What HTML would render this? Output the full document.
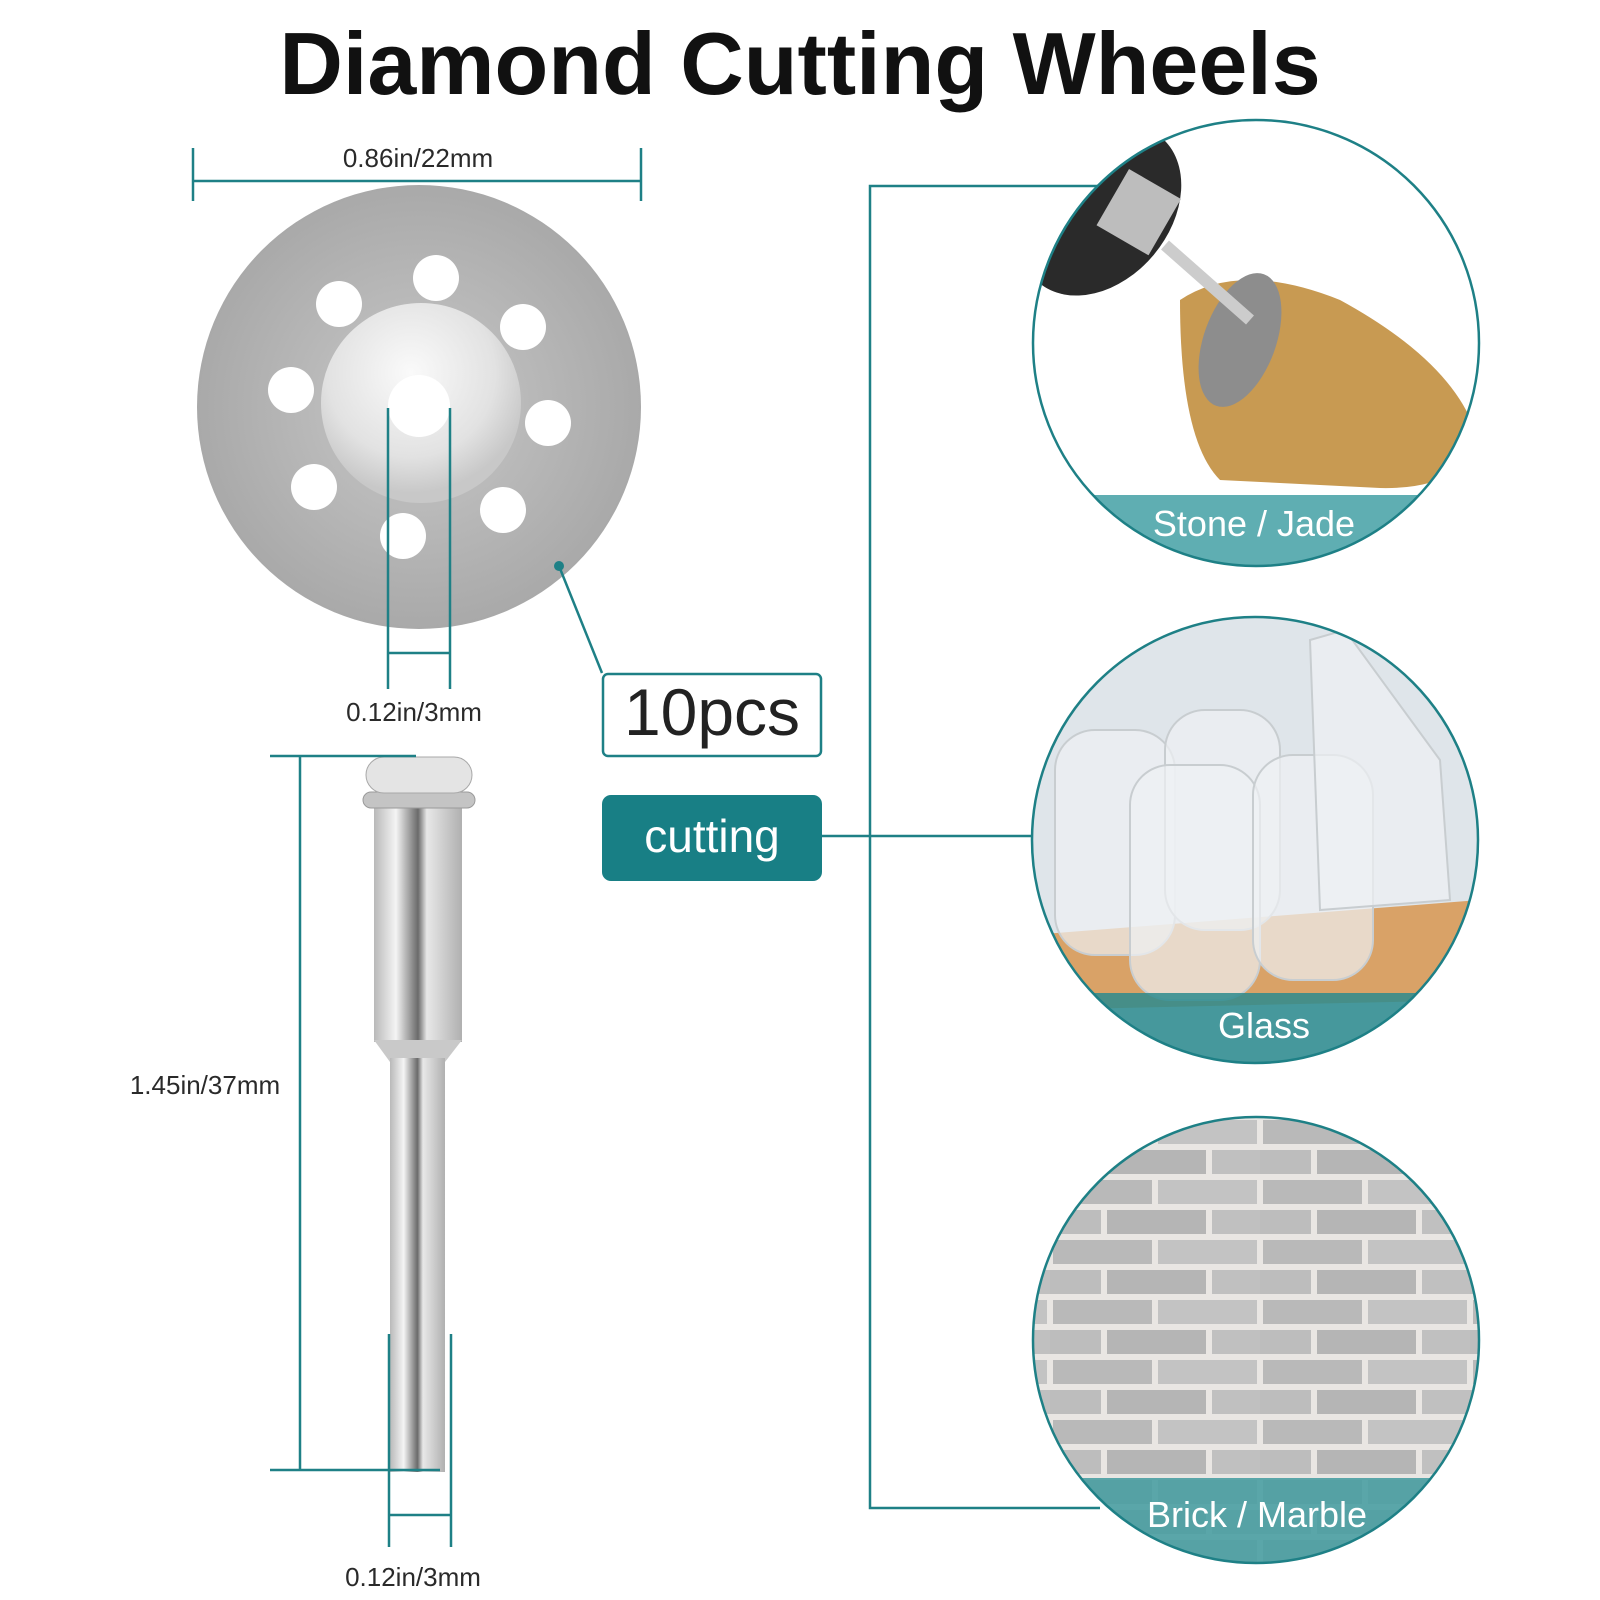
<!DOCTYPE html>
<html><head><meta charset="utf-8"><style>
html,body{margin:0;padding:0;background:#fff;}
svg{display:block;}
text{font-family:"Liberation Sans",sans-serif;}
</style></head><body>
<svg width="1600" height="1600" viewBox="0 0 1600 1600" xmlns="http://www.w3.org/2000/svg">
<defs>
<radialGradient id="disc" cx="50%" cy="50%" r="50%">
<stop offset="0" stop-color="#c8c8c8"/><stop offset="1" stop-color="#a9a9a9"/></radialGradient>
<radialGradient id="hub" cx="45%" cy="35%" r="60%">
<stop offset="0" stop-color="#fafafa"/><stop offset="0.7" stop-color="#e2e2e2"/><stop offset="1" stop-color="#c8c8c8"/></radialGradient>
<linearGradient id="shank" x1="0" x2="1">
<stop offset="0" stop-color="#b9b9b9"/><stop offset="0.25" stop-color="#f4f4f4"/><stop offset="0.5" stop-color="#6a6a6a"/><stop offset="0.6" stop-color="#e8e8e8"/><stop offset="1" stop-color="#b0b0b0"/></linearGradient>
<pattern id="brick" width="210" height="60" patternUnits="userSpaceOnUse" x="0" y="1117">
<rect width="210" height="60" fill="#e9e6e3"/>
<rect x="3" y="3" width="99" height="24" fill="#b9b9b9"/><rect x="108" y="3" width="99" height="24" fill="#c3c3c3"/>
<rect x="-48" y="33" width="99" height="24" fill="#bdbdbd"/><rect x="57" y="33" width="99" height="24" fill="#b5b5b5"/><rect x="162" y="33" width="99" height="24" fill="#c0c0c0"/>
</pattern>
<clipPath id="c1"><circle cx="1256" cy="343" r="223"/></clipPath>
<clipPath id="c2"><circle cx="1255" cy="840" r="223"/></clipPath>
<clipPath id="c3"><circle cx="1256" cy="1340" r="223"/></clipPath>
</defs>

<text x="800" y="94" text-anchor="middle" font-size="88" font-weight="bold" fill="#111">Diamond Cutting Wheels</text>

<g stroke="#1e8086" stroke-width="2.5" fill="none">
<line x1="193" y1="148" x2="193" y2="201"/><line x1="641" y1="148" x2="641" y2="201"/>
<line x1="193" y1="181" x2="641" y2="181"/>
</g>
<text x="418" y="167" text-anchor="middle" font-size="26" fill="#2a2a2a">0.86in/22mm</text>

<circle cx="419" cy="407" r="222" fill="url(#disc)"/>
<circle cx="421" cy="403" r="100" fill="url(#hub)"/>
<g fill="#fff">
<circle cx="436" cy="278" r="23"/><circle cx="523" cy="327" r="23"/><circle cx="548" cy="423" r="23"/><circle cx="503" cy="510" r="23"/>
<circle cx="403" cy="536" r="23"/><circle cx="314" cy="487" r="23"/><circle cx="291" cy="390" r="23"/><circle cx="339" cy="304" r="23"/>
<circle cx="419" cy="406" r="31"/>
</g>
<g stroke="#1e8086" stroke-width="2.5" fill="none">
<line x1="388" y1="408" x2="388" y2="689"/><line x1="450" y1="408" x2="450" y2="689"/>
<line x1="388" y1="653" x2="450" y2="653"/>
<polyline points="559,566 602,673"/>
</g>
<circle cx="559" cy="566" r="5" fill="#1e8086"/>
<text x="414" y="721" text-anchor="middle" font-size="26" fill="#2a2a2a">0.12in/3mm</text>

<rect x="603" y="674" width="218" height="82" rx="5" fill="#fff" stroke="#1e8086" stroke-width="2.5"/>
<text x="712" y="735" text-anchor="middle" font-size="66" fill="#222">10pcs</text>
<rect x="602" y="795" width="220" height="86" rx="9" fill="#187f85"/>
<text x="712" y="852" text-anchor="middle" font-size="46" fill="#fff">cutting</text>

<g stroke="#1e8086" stroke-width="2.5" fill="none">
<polyline points="1100,186 870,186 870,1508 1100,1508"/>
<line x1="822" y1="836" x2="1034" y2="836"/>
</g>

<rect x="374" y="806" width="88" height="236" fill="url(#shank)"/>
<polygon points="374,1040 462,1040 445,1062 390,1062" fill="#c9c9c9"/>
<rect x="390" y="1058" width="55" height="414" fill="url(#shank)"/>
<rect x="363" y="792" width="112" height="16" rx="8" fill="#c4c4c4" stroke="#9a9a9a"/>
<rect x="366" y="757" width="106" height="36" rx="18" fill="#e4e4e4" stroke="#a8a8a8"/>
<g stroke="#1e8086" stroke-width="2.5" fill="none">
<line x1="270" y1="756" x2="416" y2="756"/><line x1="270" y1="1470" x2="440" y2="1470"/>
<line x1="300" y1="756" x2="300" y2="1470"/>
<line x1="389" y1="1334" x2="389" y2="1547"/><line x1="451" y1="1334" x2="451" y2="1547"/>
<line x1="389" y1="1515" x2="451" y2="1515"/>
</g>
<text x="205" y="1094" text-anchor="middle" font-size="26" fill="#2a2a2a">1.45in/37mm</text>
<text x="413" y="1586" text-anchor="middle" font-size="26" fill="#2a2a2a">0.12in/3mm</text>

<g clip-path="url(#c1)">
<rect x="1030" y="118" width="452" height="452" fill="#fff"/>
<ellipse cx="1100" cy="210" rx="70" ry="95" fill="#2a2a2a" transform="rotate(40 1100 210)"/>
<rect x="1110" y="180" width="60" height="65" fill="#bdbdbd" transform="rotate(30 1140 210)"/>
<path d="M1180 300 Q1240 260 1340 300 Q1450 360 1475 430 Q1470 490 1380 488 L1220 480 Q1180 440 1180 300Z" fill="#c89a52"/>
<ellipse cx="1240" cy="340" rx="36" ry="70" fill="#8d8d8d" transform="rotate(20 1240 340)"/>
<line x1="1165" y1="245" x2="1250" y2="320" stroke="#ccc" stroke-width="12"/>
<rect x="1030" y="495" width="452" height="80" fill="#5faeb2"/>
</g>
<circle cx="1256" cy="343" r="223" fill="none" stroke="#1e8086" stroke-width="2.5"/>
<text x="1254" y="536" text-anchor="middle" font-size="36" fill="#fff">Stone / Jade</text>

<g clip-path="url(#c2)">
<rect x="1030" y="615" width="452" height="452" fill="#dfe5ea"/>
<polygon points="1030,935 1480,900 1480,1000 1030,1010" fill="#d9a267"/>
<g fill="#eef1f3" fill-opacity="0.7" stroke="#c8cdd0" stroke-width="2">
<rect x="1055" y="730" width="120" height="225" rx="40"/>
<rect x="1165" y="710" width="115" height="220" rx="40"/>
<rect x="1130" y="765" width="130" height="235" rx="40"/>
<rect x="1253" y="755" width="120" height="225" rx="40"/>
<path d="M1310 640 L1345 630 L1440 760 L1450 900 L1320 910 Z"/>
</g>
<rect x="1030" y="993" width="452" height="80" fill="#2b8b8e" fill-opacity="0.85"/>
</g>
<circle cx="1255" cy="840" r="223" fill="none" stroke="#1e8086" stroke-width="2.5"/>
<text x="1264" y="1038" text-anchor="middle" font-size="36" fill="#fff">Glass</text>

<g clip-path="url(#c3)">
<rect x="1030" y="1115" width="452" height="452" fill="url(#brick)"/>
<rect x="1030" y="1478" width="452" height="90" fill="#4a9ea2" fill-opacity="0.9"/>
</g>
<circle cx="1256" cy="1340" r="223" fill="none" stroke="#1e8086" stroke-width="2.5"/>
<text x="1257" y="1527" text-anchor="middle" font-size="36" fill="#fff">Brick / Marble</text>
</svg>
</body></html>
